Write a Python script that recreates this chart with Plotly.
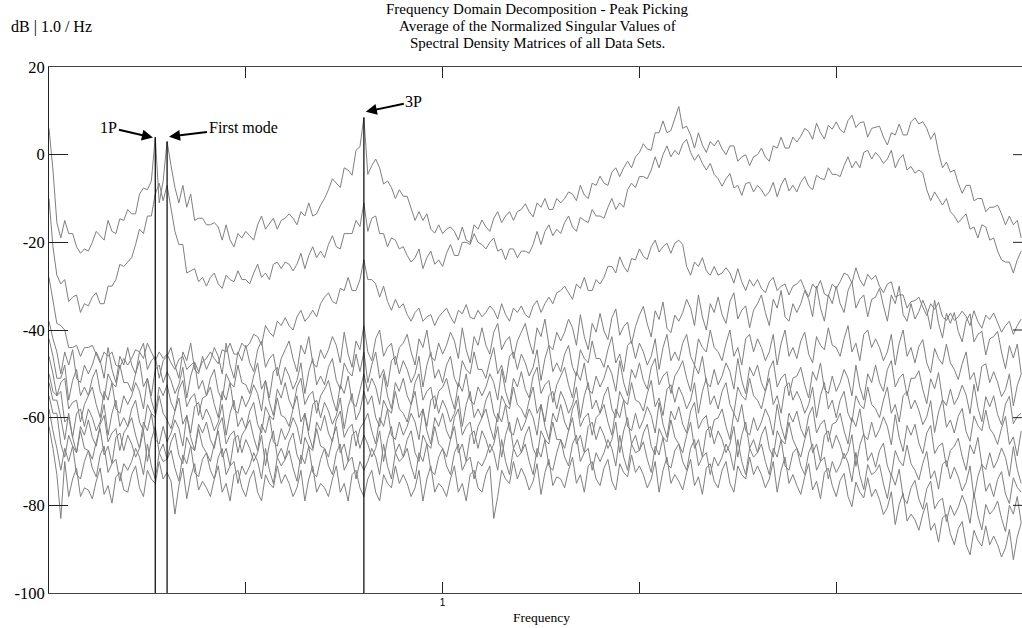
import plotly.graph_objects as go

# ---------------- data (dB values, 0.01 Hz spacing from 0 Hz) ----------------
freq_step = 0.01

sv1 = [
6, -3.5, -15.5, -19, -15, -18, -18, -21, -22.5, -21.5,
-22, -20, -17.5, -18.5, -19.5, -15, -17.5, -18, -14.6, -15,
-12.5, -13.5, -13.5, -9, -7.6, -8, -6, 4, -11, -6,
3, -2.5, -7.5, -11, -7, -12, -9, -15, -14.5, -14.5,
-16, -16, -15.5, -16.5, -19.5, -16, -19.5, -21, -18, -19,
-17.5, -18.5, -19.5, -16, -14, -17, -15.6, -14.5, -17, -15,
-14.5, -13.5, -14.5, -16, -13, -14, -11, -14, -13.5, -11.5,
-10, -8, -5.5, -6.5, -7.5, -3, -3.5, -4.7, 1, 1.8,
8.5, -4.5, -2.5, -1, -3, -6.7, -6, -7.5, -10, -8,
-9.5, -9.5, -12.5, -15, -13, -15, -13.5, -17, -17.9, -16,
-18, -17, -16.5, -17.5, -19.5, -16.5, -19.5, -20, -16, -17,
-14.9, -16.5, -17.5, -14.5, -13, -15.5, -14, -13, -15, -13,
-12.5, -11.2, -13, -14.2, -11, -12, -10, -12.5, -12.5, -10,
-11, -10, -8.5, -9, -10.5, -7, -9.2, -10, -6.5, -7,
-4.9, -6.5, -7, -4, -3, -5, -3, -1.5, -3, -0.5,
0.5, 2.5, 1.3, 1, 5, 5, 7.7, 5, 5.5, 8.5,
11, 6, 6.5, 4.5, 1.5, 5, 2.2, 0.5, 3, 2,
3.3, 1.3, 0, 2, 2, -1.5, -0.5, 0, -2.5, -0.5,
0, 1.5, -0.5, -1.5, 2, 1.5, 4, 1.5, 1.5, 4,
2.9, 4.2, 6, 5.3, 3.5, 7.2, 5, 3.6, 6.7, 5.8,
7.5, 5.7, 5, 7.8, 9, 6.2, 7.3, 7.5, 4, 6,
6.2, 6.5, 4, 2.2, 5, 4.5, 7, 4.5, 4.5, 7.5,
8.4, 7, 7.5, 6, 3.5, 5, 0.5, -3, -1.7, -4,
-3.5, -6.5, -8.8, -7, -7, -10.5, -10, -10, -13, -12,
-12, -11.5, -13.5, -16, -14, -16, -15, -19,
]

sv2 = [
-10, -21, -27.5, -29.5, -28.5, -33.5, -32.5, -32, -36, -34,
-34.5, -32.5, -31.5, -34, -34, -30, -30, -28.5, -25, -25.5,
-24.5, -23.5, -20.5, -17, -18, -14, -14, -9, -6.5, -10.5,
-7, -12, -17.5, -20.5, -20.5, -27, -26.5, -26, -29, -28,
-30, -28, -27, -29.5, -30.5, -27.5, -28.5, -29, -26.5, -28.5,
-28.5, -29.5, -27, -25, -28, -27, -28.5, -25, -24.5, -26,
-24.5, -25, -26.5, -25, -22.5, -26, -23, -21, -23.5, -22,
-23.5, -20.5, -18.5, -21, -21.5, -18, -18, -18, -15, -16.4,
-11, -17.5, -14.5, -14, -18, -18, -21, -19, -19.5, -21.5,
-21, -23, -24.5, -23.5, -21.5, -26, -23.5, -22, -25, -24,
-25.5, -22.5, -20.5, -23, -23, -20, -20, -20.5, -18, -20,
-20.5, -21.5, -20, -19, -22, -21.5, -24, -21.5, -21.5, -23.5,
-22, -22, -22.5, -20.5, -17.5, -20.5, -17.5, -16, -18.5, -17,
-18, -15.5, -14, -16.5, -17.5, -14.3, -15, -15.5, -12.5, -14,
-14, -14.5, -12, -10, -12.5, -11, -12, -8, -6.5, -7.5,
-5, -5, -5.5, -3.5, -0.5, -3, 0, 2, -0.5, 1,
0, 2.5, 3.5, 0.5, -1.3, 0, -2, -3.5, -2, -4.5,
-5.5, -7.2, -5.5, -4.3, -7.6, -7, -9.3, -6.6, -6.3, -8.5,
-7, -8, -9.5, -8.5, -6.3, -9.6, -6.9, -5.3, -8.3, -7,
-8.5, -6.3, -5, -7.2, -8, -4.7, -5.4, -5.7, -3, -4.5,
-4.5, -5, -2.5, -0.5, -3, -1.5, -3, 0.5, 1, -1,
0.5, -0.5, -2, -1, 1, -3, -1, 0, -3.5, -2.7,
-4.2, -3.5, -4.2, -8, -10.5, -8.5, -10, -11.5, -10, -13,
-14, -15.5, -14.5, -13.5, -17, -16.5, -19, -16, -16.5, -19.5,
-19, -22, -24, -24.5, -24.5, -27, -24, -22,
]

sv3 = [
-28, -33.5, -38.5, -39, -40, -44, -44, -43.5, -46, -44,
-44, -43.5, -45.5, -47.5, -45, -46, -45, -48, -48.5, -46.5,
-48, -46.5, -44.5, -45, -46.5, -43, -45, -47, -45, -46.5,
-45.5, -47.5, -49, -46.7, -46, -49, -48, -47.3, -49.5, -47.2,
-46.5, -45, -46.5, -47.7, -44.5, -45, -43, -45.5, -45.5, -43,
-44, -43, -41, -41.5, -43.5, -39, -40.5, -41.5, -38, -39,
-37.2, -39, -40, -37, -35.5, -38, -37, -35.5, -37, -34,
-32.5, -31.5, -33.5, -34, -30.5, -31, -28, -31, -31, -28.5,
-24, -28.5, -28.5, -29.5, -32.5, -30, -33.5, -35.5, -33, -35,
-34, -36.5, -38, -36, -35, -38, -37, -36.5, -39, -37,
-36, -35, -37, -38.5, -35.5, -36.3, -34.2, -37.1, -37.5, -35.5,
-37, -36, -34.5, -35.5, -37.5, -34, -36.5, -38, -35, -36,
-34.5, -36.5, -37.2, -34.5, -33.3, -36, -34, -32.5, -34, -31.5,
-31, -30, -31.5, -33, -29.5, -30.5, -28, -31, -31, -28.5,
-29.5, -28, -25.5, -25.5, -27, -23.3, -25.5, -26.8, -23.7, -24,
-21.5, -23.2, -23.9, -21, -19.5, -22.2, -21, -20.2, -22.5, -20.2,
-19.5, -20.5, -25.5, -27.5, -24.5, -25.5, -23.5, -26.5, -27.5, -25.5,
-27.5, -27, -25.8, -27, -29.3, -26, -29, -31, -28.5, -30,
-28.5, -30.5, -31.5, -29, -28, -31, -30, -29.5, -32, -30,
-29.5, -28.5, -30.7, -32.4, -29.5, -30.6, -28.7, -31.8, -32.3, -29.5,
-30.5, -29, -27, -27.5, -29.3, -25.8, -28.5, -30, -27.3, -28.5,
-27.5, -30, -31.5, -29.5, -29, -32.5, -32, -32, -35, -33.5,
-33.3, -32.5, -34.8, -36.7, -34, -35.3, -33.7, -37, -37.8, -36.1,
-37.8, -37, -35.7, -36.9, -39, -35.6, -38.1, -39.6, -36.6, -37.6,
-36.1, -38.5, -40.5, -39, -38, -41, -39, -37.5,
]

sv4 = [
-38, -42, -45, -50, -45, -48, -44.5, -51, -52, -48,
-50, -48, -45, -47, -51, -44, -49, -52, -46, -48,
-44, -48, -50, -45, -43, -49, -47, -46, -51, -47,
-46, -44, -48, -51, -45, -47, -43, -49, -50, -46,
-49, -47, -44, -46, -50, -43, -48, -51, -45, -47,
-43.5, -47.5, -49.5, -44.5, -42.5, -48.5, -46.5, -45.5, -50.5, -46.5,
-44.5, -42.5, -46.5, -49.5, -43.5, -45.5, -41.5, -47.5, -48.5, -44.5,
-46.5, -44.5, -41.5, -43.5, -47.5, -40.5, -45.5, -48.5, -42.5, -44.5,
-39, -45, -47, -42, -40, -46, -44, -43, -48, -44,
-43, -41, -45, -48, -42, -44, -40, -46, -47, -43,
-45.5, -43.5, -40.5, -42.5, -46.5, -39.5, -44.5, -47.5, -41.5, -43.5,
-39.5, -43.5, -45.5, -40.5, -38.5, -44.5, -42.5, -41.5, -46.5, -42.5,
-40.5, -38.5, -42.5, -45.5, -39.5, -41.5, -37.5, -43.5, -44.5, -40.5,
-42.5, -40.5, -37.5, -39.5, -43.5, -36.5, -41.5, -44.5, -38.5, -40.5,
-36.2, -40.2, -42.2, -37.2, -35.2, -41.2, -39.2, -38.2, -43.2, -39.2,
-36.6, -34.6, -38.6, -41.6, -35.6, -37.6, -33.6, -39.6, -40.6, -36.6,
-38, -36, -33, -35, -39, -32, -37, -40, -34, -36,
-32.5, -36.5, -38.5, -33.5, -31.5, -37.5, -35.5, -34.5, -39.5, -35.5,
-34, -32, -36, -39, -33, -35, -31, -37, -38, -34,
-36, -34, -31, -33, -37, -30, -35, -38, -32, -34,
-30, -34, -36, -31, -29, -35, -33, -32, -37, -33,
-32.5, -30.5, -34.5, -38, -32, -34, -30, -36.5, -38, -34,
-37.5, -35.8, -33.2, -35.5, -39.8, -33.2, -38.5, -41.8, -36.2, -38.5,
-36, -40.3, -42.7, -38, -36.3, -42.7, -41, -40.3, -45.7, -42,
-41.5, -40.3, -45, -48.8, -43.6, -46.4, -43.2, -50,
]

sv5 = [
-42, -46, -51, -51, -48, -56, -51.5, -49, -55, -53,
-55, -51, -49, -54, -56, -50, -52, -53, -48, -52,
-52, -54, -50, -47, -53, -51, -55, -49, -48, -52,
-49.5, -51.5, -54.5, -52.5, -48.5, -55.5, -50.5, -47.5, -53.5, -51.5,
-55, -51, -49, -54, -56, -50, -52, -53, -48, -52,
-52.5, -54.5, -50.5, -47.5, -53.5, -51.5, -55.5, -49.5, -48.5, -52.5,
-48.5, -50.5, -53.5, -51.5, -47.5, -54.5, -49.5, -46.5, -52.5, -50.5,
-52.5, -48.5, -46.5, -51.5, -53.5, -47.5, -49.5, -50.5, -45.5, -49.5,
-45, -52, -48, -45, -51, -49, -53, -47, -46, -50,
-47, -49, -52, -50, -46, -53, -48, -45, -51, -49,
-52, -48, -46, -51, -53, -47, -49, -50, -45, -49,
-49, -51, -47, -44, -50, -48, -52, -46, -45, -49,
-45.5, -47.5, -50.5, -48.5, -44.5, -51.5, -46.5, -43.5, -49.5, -47.5,
-49.5, -45.5, -43.5, -48.5, -50.5, -44.5, -46.5, -47.5, -42.5, -46.5,
-46.5, -48.5, -44.5, -41.5, -47.5, -45.5, -49.5, -43.5, -42.5, -46.5,
-43, -45, -48, -46, -42, -49, -44, -41, -47, -45,
-47, -43, -41, -46, -48, -42, -44, -45, -40, -44,
-45, -47, -43, -40, -46, -44, -48, -42, -41, -45,
-42, -44, -47, -45, -41, -48, -43, -40, -46, -44,
-46.5, -42.5, -40.5, -45.5, -47.5, -41.5, -43.5, -44.5, -39.5, -43.5,
-44, -46, -42, -39, -45, -43, -47, -41, -40, -44,
-42, -44, -47, -45, -41, -48, -43, -40, -46, -44,
-47.5, -43.8, -42.2, -47.5, -49.8, -44.2, -46.5, -47.8, -43.2, -47.5,
-49, -51.3, -47.7, -45, -51.3, -49.7, -54, -48.3, -47.7, -52,
-49.5, -51.9, -55.2, -53.6, -50, -57.3, -52.7, -50,
]

sv6 = [
-46, -50, -55, -52, -51, -58, -56.5, -56, -61, -57,
-55, -53, -57, -60, -54, -56, -52, -58, -59, -55,
-57, -55, -52, -54, -58, -51, -56, -59, -53, -55,
-52.5, -56.5, -58.5, -53.5, -51.5, -57.5, -55.5, -54.5, -59.5, -55.5,
-55, -53, -57, -60, -54, -56, -52, -58, -59, -55,
-57.5, -55.5, -52.5, -54.5, -58.5, -51.5, -56.5, -59.5, -53.5, -55.5,
-52, -56, -58, -53, -51, -57, -55, -54, -59, -55,
-53.5, -51.5, -55.5, -58.5, -52.5, -54.5, -50.5, -56.5, -57.5, -53.5,
-50, -54, -51, -53, -57, -50, -55, -58, -52, -54,
-51, -55, -57, -52, -50, -56, -54, -53, -58, -54,
-53, -51, -55, -58, -52, -54, -50, -56, -57, -53,
-55, -53, -50, -52, -56, -49, -54, -57, -51, -53,
-49.5, -53.5, -55.5, -50.5, -48.5, -54.5, -52.5, -51.5, -56.5, -52.5,
-50.5, -48.5, -52.5, -55.5, -49.5, -51.5, -47.5, -53.5, -54.5, -50.5,
-53, -51, -48, -50, -54, -47, -52, -55, -49, -51,
-47.5, -51.5, -53.5, -48.5, -46.5, -52.5, -50.5, -49.5, -54.5, -50.5,
-49, -47, -51, -54, -48, -50, -46, -52, -53, -49,
-52.5, -50.5, -47.5, -49.5, -53.5, -46.5, -51.5, -54.5, -48.5, -50.5,
-48, -52, -54, -49, -47, -53, -51, -50, -55, -51,
-50.5, -48.5, -52.5, -55.5, -49.5, -51.5, -47.5, -53.5, -54.5, -50.5,
-54, -52, -49, -51, -55, -48, -53, -56, -50, -52,
-48, -52, -54, -49, -47, -53, -51, -50, -55, -51,
-51, -49.3, -53.6, -56.8, -51.1, -53.4, -49.7, -55.9, -57.2, -53.5,
-57, -55.3, -52.6, -54.8, -59.1, -52.4, -57.7, -60.9, -55.2, -57.5,
-55, -59.3, -61.6, -56.9, -55.1, -61.4, -59.7, -59,
]

sv7 = [
-50, -54, -55, -54, -61, -60, -64.5, -59, -58, -62,
-58, -60, -63, -61, -57, -64, -59, -56, -62, -60,
-62, -58, -56, -61, -63, -57, -59, -60, -55, -59,
-60.5, -62.5, -58.5, -55.5, -61.5, -59.5, -63.5, -57.5, -56.5, -60.5,
-58, -60, -63, -61, -57, -64, -59, -56, -62, -60,
-62.5, -58.5, -56.5, -61.5, -63.5, -57.5, -59.5, -60.5, -55.5, -59.5,
-60, -62, -58, -55, -61, -59, -63, -57, -56, -60,
-56.5, -58.5, -61.5, -59.5, -55.5, -62.5, -57.5, -54.5, -60.5, -58.5,
-54, -57, -55, -60, -62, -56, -58, -59, -54, -58,
-59, -61, -57, -54, -60, -58, -62, -56, -55, -59,
-56, -58, -61, -59, -55, -62, -57, -54, -60, -58,
-60, -56, -54, -59, -61, -55, -57, -58, -53, -57,
-58, -60, -56, -53, -59, -57, -61, -55, -54, -58,
-54, -56, -59, -57, -53, -60, -55, -52, -58, -56,
-59, -55, -53, -58, -60, -54, -56, -57, -52, -56,
-56.5, -58.5, -54.5, -51.5, -57.5, -55.5, -59.5, -53.5, -52.5, -56.5,
-53, -55, -58, -56, -52, -59, -54, -51, -57, -55,
-58, -54, -52, -57, -59, -53, -55, -56, -51, -55,
-56, -58, -54, -51, -57, -55, -59, -53, -52, -56,
-54, -56, -59, -57, -53, -60, -55, -52, -58, -56,
-60, -56, -54, -59, -61, -55, -57, -58, -53, -57,
-58, -60, -56, -53, -59, -57, -61, -55, -54, -58,
-56, -58.3, -61.6, -59.8, -56.1, -63.4, -58.7, -55.9, -62.2, -60.5,
-63.5, -59.7, -57.9, -63.2, -65.4, -59.6, -61.8, -63, -58.3, -62.5,
-63.8, -66.1, -62.4, -59.7, -66.1, -64.4, -68.7, -63,
]

sv8 = [
-52, -56, -56, -60, -65, -59, -64.5, -68, -62, -64,
-60.5, -64.5, -66.5, -61.5, -59.5, -65.5, -63.5, -62.5, -67.5, -63.5,
-62, -60, -64, -67, -61, -63, -59, -65, -66, -62,
-65.5, -63.5, -60.5, -62.5, -66.5, -59.5, -64.5, -67.5, -61.5, -63.5,
-61, -65, -67, -62, -60, -66, -64, -63, -68, -64,
-62.5, -60.5, -64.5, -67.5, -61.5, -63.5, -59.5, -65.5, -66.5, -62.5,
-65, -63, -60, -62, -66, -59, -64, -67, -61, -63,
-59.5, -63.5, -65.5, -60.5, -58.5, -64.5, -62.5, -61.5, -66.5, -62.5,
-61, -59, -63, -66, -60, -62, -58, -64, -65, -61,
-64, -62, -59, -61, -65, -58, -63, -66, -60, -62,
-59, -63, -65, -60, -58, -64, -62, -61, -66, -62,
-60, -58, -62, -65, -59, -61, -57, -63, -64, -60,
-63, -61, -58, -60, -64, -57, -62, -65, -59, -61,
-57, -61, -63, -58, -56, -62, -60, -59, -64, -60,
-59, -57, -61, -64, -58, -60, -56, -62, -63, -59,
-62.5, -60.5, -57.5, -59.5, -63.5, -56.5, -61.5, -64.5, -58.5, -60.5,
-57.5, -61.5, -63.5, -58.5, -56.5, -62.5, -60.5, -59.5, -64.5, -60.5,
-60, -58, -62, -65, -59, -61, -57, -63, -64, -60,
-63, -61, -58, -60, -64, -57, -62, -65, -59, -61,
-58.5, -62.5, -64.5, -59.5, -57.5, -63.5, -61.5, -60.5, -65.5, -61.5,
-61, -59, -63, -66, -60, -62, -58, -64, -65, -61,
-64.5, -62.7, -59.8, -62, -66.2, -59.3, -64.5, -67.7, -61.8, -64,
-61.5, -65.8, -68.2, -63.5, -61.8, -68.2, -66.5, -65.8, -71.2, -67.5,
-66.5, -64.7, -68.8, -72, -66.2, -68.3, -64.5, -70.7, -71.8, -68,
-71.5, -69.7, -66.9, -69.1, -73.4, -66.6, -71.8, -75,
]

sv9 = [
-55, -59, -59, -66, -69, -64, -66.5, -68, -63, -67,
-67.5, -69.5, -65.5, -62.5, -68.5, -66.5, -70.5, -64.5, -63.5, -67.5,
-64, -66, -69, -67, -63, -70, -65, -62, -68, -66,
-69.5, -65.5, -63.5, -68.5, -70.5, -64.5, -66.5, -67.5, -62.5, -66.5,
-68, -70, -66, -63, -69, -67, -71, -65, -64, -68,
-65, -67, -70, -68, -64, -71, -66, -63, -69, -67,
-69.5, -65.5, -63.5, -68.5, -70.5, -64.5, -66.5, -67.5, -62.5, -66.5,
-67, -69, -65, -62, -68, -66, -70, -64, -63, -67,
-64, -66, -69, -67, -63, -70, -65, -62, -68, -66,
-69, -65, -63, -68, -70, -64, -66, -67, -62, -66,
-67, -69, -65, -62, -68, -66, -70, -64, -63, -67,
-63, -65, -68, -66, -62, -69, -64, -61, -67, -65,
-68, -64, -62, -67, -69, -63, -65, -66, -61, -65,
-65, -67, -63, -60, -66, -64, -68, -62, -61, -65,
-62, -64, -67, -65, -61, -68, -63, -60, -66, -64,
-67.5, -63.5, -61.5, -66.5, -68.5, -62.5, -64.5, -65.5, -60.5, -64.5,
-66, -68, -64, -61, -67, -65, -69, -63, -62, -66,
-63, -65, -68, -66, -62, -69, -64, -61, -67, -65,
-68, -64, -62, -67, -69, -63, -65, -66, -61, -65,
-67, -69, -65, -62, -68, -66, -70, -64, -63, -67,
-64, -66.2, -69.4, -67.7, -63.9, -71.1, -66.3, -63.6, -69.8, -68,
-71.3, -67.5, -65.8, -71, -73.3, -67.5, -69.8, -71, -66.3, -70.5,
-72, -74.2, -70.4, -67.7, -73.9, -72.1, -76.3, -70.6, -69.8, -74,
-71.3, -73.5, -76.7, -74.8, -71, -78.2, -73.4, -70.6, -76.8, -75,
-78, -74.1, -72.3, -77.4, -79.6, -73.7, -75.9, -77,
]

sv10 = [
-58, -63, -67, -72, -67, -70, -66.5, -73, -74, -70,
-67.5, -71.5, -73.5, -68.5, -66.5, -72.5, -70.5, -69.5, -74.5, -70.5,
-72, -70, -67, -69, -73, -66, -71, -74, -68, -70,
-69.5, -67.5, -71.5, -74.5, -68.5, -70.5, -66.5, -72.5, -73.5, -69.5,
-68, -72, -74, -69, -67, -73, -71, -70, -75, -71,
-73, -71, -68, -70, -74, -67, -72, -75, -69, -71,
-69.5, -67.5, -71.5, -74.5, -68.5, -70.5, -66.5, -72.5, -73.5, -69.5,
-67, -71, -73, -68, -66, -72, -70, -69, -74, -70,
-72, -70, -67, -69, -73, -66, -71, -74, -68, -70,
-69, -67, -71, -74, -68, -70, -66, -72, -73, -69,
-67, -71, -73, -68, -66, -72, -70, -69, -74, -70,
-71, -69, -66, -68, -72, -65, -70, -73, -67, -69,
-68, -66, -70, -73, -67, -69, -65, -71, -72, -68,
-65, -69, -71, -66, -64, -70, -68, -67, -72, -68,
-70, -68, -65, -67, -71, -64, -69, -72, -66, -68,
-67.5, -65.5, -69.5, -72.5, -66.5, -68.5, -64.5, -70.5, -71.5, -67.5,
-66, -70, -72, -67, -65, -71, -69, -68, -73, -69,
-71, -69, -66, -68, -72, -65, -70, -73, -67, -69,
-68, -66, -70, -73, -67, -69, -65, -71, -72, -68,
-67, -71, -73, -68, -66, -72, -70, -69, -74, -70,
-72.5, -70.8, -68.1, -70.3, -74.6, -67.9, -73.2, -76.4, -70.7, -73,
-72.3, -70.7, -75.1, -78.5, -72.9, -75.4, -71.8, -78.2, -79.6, -76,
-74.3, -78.6, -80.9, -76.2, -74.5, -80.8, -79.1, -78.4, -83.7, -80,
-82.3, -80.5, -77.7, -79.9, -84.1, -77.2, -82.4, -85.6, -79.8, -82,
-81, -79, -83, -86, -80, -82, -78, -84,
]

sv11 = [
-62, -67, -73, -83, -70, -78, -74, -71.5, -78, -76,
-76.5, -78.5, -74.5, -71.5, -77.5, -75.5, -79.5, -73.5, -72.5, -76.5,
-77, -73, -71, -76, -78, -72, -74, -75, -70, -74,
-72.5, -74.5, -82, -75.5, -71.5, -78.5, -73.5, -70.5, -76.5, -74.5,
-76, -78, -74, -71, -77, -75, -79, -73, -72, -76,
-78, -74, -72, -77, -79, -73, -75, -76, -71, -75,
-73, -75, -78, -76, -72, -79, -74, -71, -77, -75,
-76, -78, -74, -71, -77, -75, -79, -73, -72, -76,
-78, -74, -72, -77, -79, -73, -75, -76, -71, -75,
-73, -75, -78, -76, -72, -79, -74, -71, -77, -75,
-76, -78, -74, -71, -77, -75, -79, -73, -72, -76,
-77, -73, -71, -83, -78, -72, -74, -75, -70, -74,
-71.5, -73.5, -76.5, -74.5, -70.5, -77.5, -72.5, -69.5, -75.5, -73.5,
-74, -76, -72, -69, -75, -73, -77, -71, -70, -74,
-75.5, -71.5, -69.5, -74.5, -76.5, -70.5, -72.5, -73.5, -68.5, -72.5,
-71, -73, -76, -74, -70, -77, -72, -69, -75, -73,
-74.5, -76.5, -72.5, -69.5, -75.5, -73.5, -77.5, -71.5, -70.5, -74.5,
-76, -72, -70, -75, -77, -71, -73, -74, -69, -73,
-71, -73, -76, -74, -70, -77, -72, -69, -75, -73,
-75.5, -77.5, -73.5, -70.5, -76.5, -74.5, -78.5, -72.5, -71.5, -75.5,
-78, -74.3, -72.7, -78, -80.3, -74.7, -77, -78.3, -73.7, -78,
-76.3, -78.7, -82.1, -80.5, -76.9, -84.4, -79.8, -77.2, -83.6, -82,
-83.3, -85.7, -82, -79.4, -85.7, -84.1, -88.4, -82.8, -82.1, -86.5,
-89, -85.3, -83.7, -89, -91.3, -85.7, -88, -89.3, -84.7, -89,
-87, -89, -91.8, -89.7, -85.5, -92.4, -87.2, -84,
]

# picked peaks (1P, first mode, 3P)
peak_freqs = [0.27, 0.30, 0.80]
peak_db = [4, 3, 8.5]
peak_labels = ["1P", "First mode", "3P"]

y_ticks = [20, 0, -20, -40, -60, -80, -100]
x_ticks = [0.5, 1.0, 1.5, 2.0]
x_tick_text = ["", "1", "", ""]

# ---------------- figure ----------------
SERIF = "Liberation Serif, Times New Roman, serif"
GRAY = "#7f7f7f"
TITLE_SIZE = 15
LABEL_SIZE = 16
TICK_SIZE = 16.5

fig = go.Figure()

all_series = [sv1, sv2, sv3, sv4, sv5, sv6, sv7, sv8, sv9, sv10, sv11]
for s in all_series:
    xs = [round(i * freq_step, 2) for i in range(len(s))]
    fig.add_trace(go.Scatter(x=xs, y=s, mode="lines",
                             line=dict(color=GRAY, width=1), hoverinfo="skip"))

for f, v in zip(peak_freqs, peak_db):
    fig.add_trace(go.Scatter(x=[f, f], y=[-100, v], mode="lines",
                             line=dict(color="black", width=1.2), hoverinfo="skip"))

X_MAX = 2.472
fig.update_layout(
    width=1022, height=628,
    margin=dict(l=49, r=0, t=67, b=35),
    paper_bgcolor="white", plot_bgcolor="white",
    showlegend=False,
    font=dict(family=SERIF, size=13.5, color="black"),
)
fig.update_xaxes(
    range=[0, X_MAX], showgrid=False, zeroline=False,
    showline=True, linecolor="#444", linewidth=1, mirror="ticks",
    ticks="inside", ticklen=11, tickcolor="#222", tickwidth=1,
    tickvals=x_ticks, ticktext=x_tick_text,
    tickfont=dict(family="Liberation Sans, Arial, sans-serif", size=10, color="black"),
)
fig.update_yaxes(
    range=[-100, 20], showgrid=False, zeroline=False,
    showline=True, linecolor="#222", linewidth=1, mirror=False,
    ticks="inside", ticklen=19, tickcolor="#222", tickwidth=1,
    tickvals=y_ticks, ticktext=[str(t) for t in y_ticks],
    tickfont=dict(family=SERIF, size=TICK_SIZE, color="black"),
)

# right-side inward ticks (the axis edge lies at the window border)
for t in y_ticks[1:-1]:
    fig.add_shape(type="line", xref="paper", yref="y",
                  x0=1 - 9 / 973, x1=1, y0=t, y1=t,
                  line=dict(color="#222", width=1))

# title lines
title_lines = ["Frequency Domain Decomposition - Peak Picking",
               "Average of the Normalized Singular Values of",
               "Spectral Density Matrices of all Data Sets."]
title_py = [9, 26, 43]
for txt, py in zip(title_lines, title_py):
    fig.add_annotation(text=txt, xref="paper", yref="paper",
                       x=(537 - 49) / 973, y=(593 - py) / 526,
                       xanchor="center", yanchor="middle", showarrow=False,
                       font=dict(family=SERIF, size=TITLE_SIZE, color="black"))

fig.add_annotation(text="dB | 1.0 / Hz", xref="paper", yref="paper",
                   x=(9 - 49) / 973, y=(593 - 27) / 526,
                   xanchor="left", yanchor="middle", showarrow=False,
                   font=dict(family=SERIF, size=LABEL_SIZE, color="black"))

fig.add_annotation(text="Frequency", xref="paper", yref="paper",
                   x=(541 - 49) / 973, y=(593 - 617) / 526,
                   xanchor="center", yanchor="middle", showarrow=False,
                   font=dict(family=SERIF, size=13.5, color="black"))

# peak labels with arrows
arrow_tips = [(0.264, 3.9), (0.305, 4.1), (0.805, 9.8)]
arrow_offsets = [(-44, -10), (74, -9), (48, -10)]
for lab, (tx, ty), (ax, ay) in zip(peak_labels, arrow_tips, arrow_offsets):
    fig.add_annotation(text=lab, x=tx, y=ty, xref="x", yref="y",
                       ax=ax, ay=ay, axref="pixel", ayref="pixel",
                       showarrow=True, arrowhead=2, arrowsize=1.1,
                       arrowwidth=2, arrowcolor="black",
                       font=dict(family=SERIF, size=LABEL_SIZE, color="black"))

# remove the default page margin so the 1022x628 figure fills the window exactly
fig.write_html(
    "out.html",
    config={"displayModeBar": False},
    post_script=("document.documentElement.style.margin='0';"
                 "document.body.style.margin='0';"
                 "document.documentElement.style.overflow='hidden';"
                 "document.body.style.overflow='hidden';"),
)
